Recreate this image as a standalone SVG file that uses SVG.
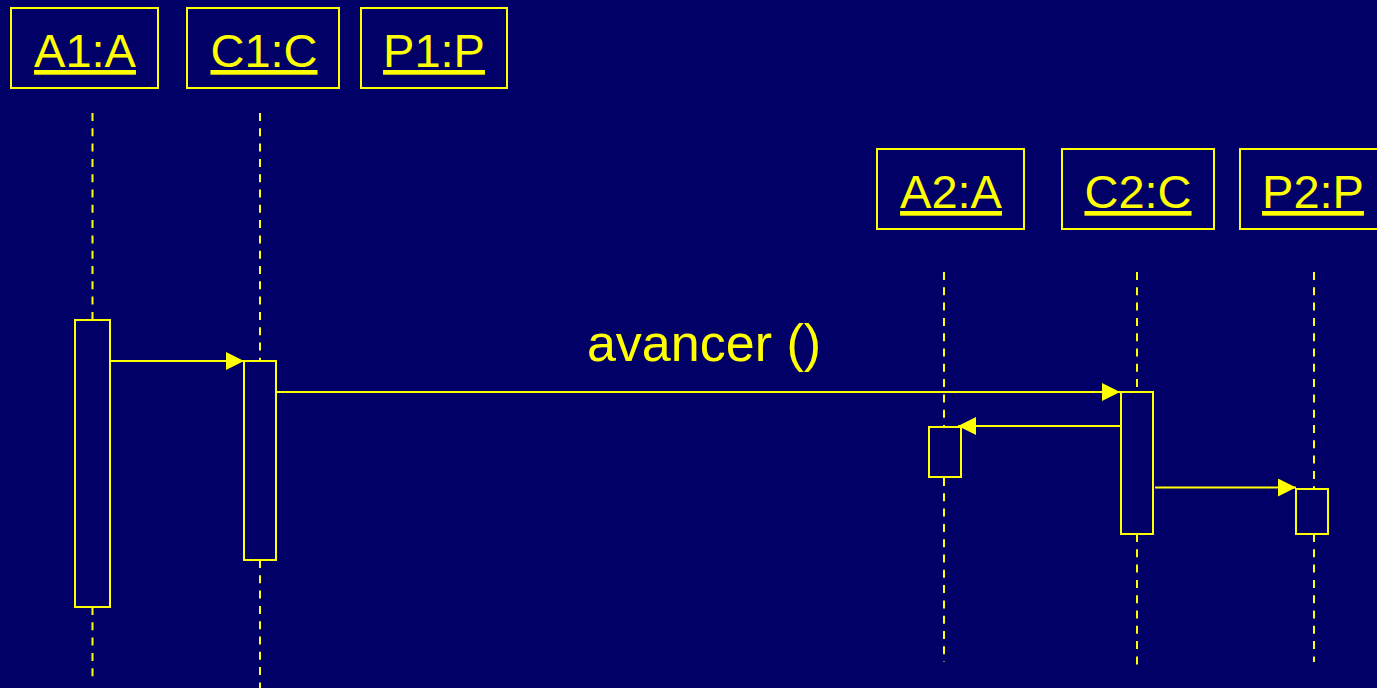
<svg xmlns="http://www.w3.org/2000/svg" width="1377" height="688" viewBox="0 0 1377 688">
<style>
.obj{fill:none;stroke:#ffff00;stroke-width:2}
.lbl{font-family:"Liberation Sans",Arial,sans-serif;font-size:47px;fill:#ffff00;text-anchor:middle;text-decoration:underline}
.life{stroke:#ffff00;stroke-width:2;stroke-dasharray:8 7.3;fill:none}
.act{fill:#000066;stroke:#ffff00;stroke-width:2}
.msg{stroke:#ffff00;stroke-width:2;fill:none;marker-end:url(#arr)}
.mtxt{font-family:"Liberation Sans",Arial,sans-serif;font-size:52px;fill:#ffff00;text-anchor:middle}
</style>
<defs>
<marker id="arr" markerUnits="userSpaceOnUse" markerWidth="18" markerHeight="18" viewBox="0 0 17 17" refX="17" refY="8.5" orient="auto">
<path d="M0,0 L17,8.5 L0,17 Z" fill="#ffff00"/>
</marker>
</defs>
<rect x="0" y="0" width="1377" height="688" fill="#000066"/>
<g id="lifelines">
<line class="life" x1="92.5" y1="113" x2="92.5" y2="320"/>
<line class="life" x1="92.5" y1="607" x2="92.5" y2="678"/>
<line class="life" x1="260" y1="113" x2="260" y2="361"/>
<line class="life" x1="260" y1="560" x2="260" y2="688"/>
<line class="life" x1="944" y1="272" x2="944" y2="427"/>
<line class="life" x1="944" y1="478" x2="944" y2="662"/>
<line class="life" x1="1137" y1="272" x2="1137" y2="392"/>
<line class="life" x1="1137" y1="534" x2="1137" y2="666"/>
<line class="life" x1="1314" y1="272" x2="1314" y2="489"/>
<line class="life" x1="1314" y1="534" x2="1314" y2="662"/>
</g>
<g id="A1">
<rect class="obj" x="11" y="8" width="147" height="80"/>
<text class="lbl" x="85" y="67">A1:A</text>
<rect class="act" x="75" y="320" width="35" height="287"/>
</g>
<g id="C1">
<rect class="obj" x="187" y="8" width="152" height="80"/>
<text class="lbl" x="264" y="67">C1:C</text>
<rect class="act" x="244" y="361" width="32" height="199"/>
</g>
<g id="P1">
<rect class="obj" x="361" y="8" width="146" height="80"/>
<text class="lbl" x="434" y="67">P1:P</text>
</g>
<g id="A2">
<rect class="obj" x="877" y="149" width="147" height="80"/>
<text class="lbl" x="951" y="208">A2:A</text>
<rect class="act" x="929" y="427" width="32" height="50"/>
</g>
<g id="C2">
<rect class="obj" x="1062" y="149" width="152" height="80"/>
<text class="lbl" x="1138" y="208">C2:C</text>
<rect class="act" x="1121" y="392" width="32" height="142"/>
</g>
<g id="P2">
<rect class="obj" x="1240" y="149" width="147" height="80"/>
<text class="lbl" x="1313" y="208">P2:P</text>
<rect class="act" x="1296" y="489" width="32" height="45"/>
</g>
<g id="connectors">
<line class="msg" x1="110" y1="361" x2="244" y2="361"/>
<line class="msg" x1="276" y1="392" x2="1120" y2="392"/>
<line class="msg" x1="1121" y1="426" x2="958" y2="426"/>
<line class="msg" x1="1155" y1="487.5" x2="1296" y2="487.5"/>
<text class="mtxt" x="704" y="361">avancer ()</text>
</g>
</svg>
